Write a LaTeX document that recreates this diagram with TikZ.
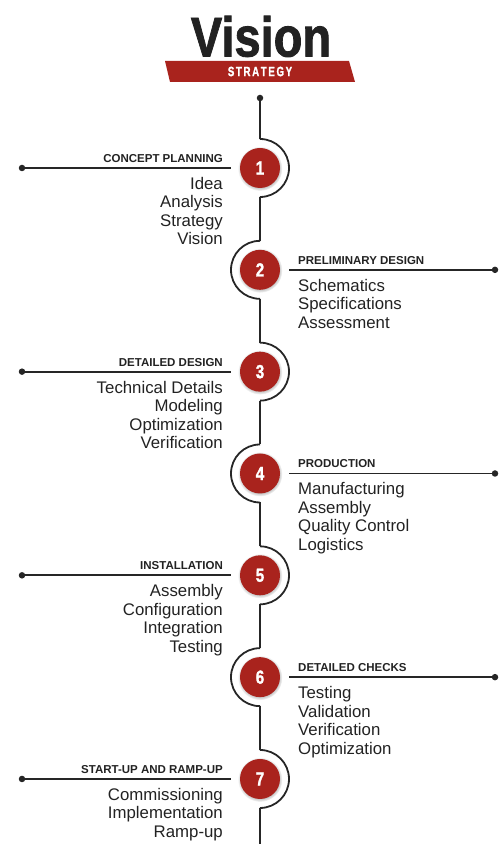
\documentclass[tikz,border=0pt]{standalone}
\usepackage{fontspec}
\setmainfont{Liberation Sans}
\newfontfamily\dickfont{Liberation Sans Bold}[FakeBold=1.6]
\usetikzlibrary{shadows}
\definecolor{rot}{HTML}{A9231D}
\definecolor{grau}{HTML}{262626}
\definecolor{hgrau}{HTML}{222222}
\tikzset{
  linie/.style={grau,line width=1.8pt},
  punkt/.style={circle,fill=grau,inner sep=0pt,minimum size=6.5pt},
  nummer/.style={circle,fill=rot,minimum size=40pt,inner sep=0pt,text=white,
    font=\dickfont\fontsize{19}{19}\selectfont,
    circular drop shadow={shadow xshift=0pt,shadow yshift=-0.5pt,shadow scale=1.12,opacity=0.45}},
  titel/.style={hgrau,font=\bfseries\fontsize{11.5}{11.5}\selectfont,inner sep=0pt},
  eintrag/.style={hgrau,font=\fontsize{16.8}{16.8}\selectfont,inner sep=0pt},
}

\begin{document}
\begin{tikzpicture}[x=1pt,y=1pt]
  \useasboundingbox (0,0) rectangle (499,844);
  % Kopf
  \node[hgrau,inner sep=0pt,anchor=base,font=\dickfont\fontsize{56}{56}\selectfont] (kopf) at (261,787.5) {\scalebox{0.84}[1]{Vision}};
  \fill[rot] (165,783) -- (349,783) -- (355,762) -- (170,762) -- cycle;
  \node[white,inner sep=0pt,font=\dickfont\fontsize{13.5}{13.5}\selectfont] (unter) at (260,772.5) {\scalebox{0.72}[1]{S\,T\,R\,A\,T\,E\,G\,Y}};
  \node[punkt] (anfang) at (260,746) {};
  \coordinate (ende) at (260,0);
  % Stufen
  \foreach \k/\name/\liste in {
      1/CONCEPT PLANNING/{Idea,Analysis,Strategy,Vision},
      2/PRELIMINARY DESIGN/{Schematics,Specifications,Assessment},
      3/DETAILED DESIGN/{Technical Details,Modeling,Optimization,Verification},
      4/PRODUCTION/{Manufacturing,Assembly,Quality Control,Logistics},
      5/INSTALLATION/{Assembly,Configuration,Integration,Testing},
      6/DETAILED CHECKS/{Testing,Validation,Verification,Optimization},
      7/START-UP AND RAMP-UP/{Commissioning,Implementation,Ramp-up}} {
    \pgfmathsetmacro{\y}{676-101.83*(\k-1)}
    \coordinate (o\k) at (260,\y+29);
    \coordinate (u\k) at (260,\y-29);
    \node[nummer] (s\k) at (260,\y) {\scalebox{0.8}[1]{\k}};
    \ifodd\k
      \draw[linie] (o\k) arc[start angle=90,end angle=-90,radius=29];
      \node[punkt] (p\k) at (22,\y) {};
      \coordinate (e\k) at (231,\y);
      \node[titel,anchor=base east] (t\k) at (223,\y+5.5) {\name};
      \foreach \w [count=\i] in \liste
        \node[eintrag,anchor=base east] at (223,\y-21.5-18.5*\i+18.5) {\w};
    \else
      \draw[linie] (o\k) arc[start angle=90,end angle=270,radius=29];
      \node[punkt] (p\k) at (495,\y) {};
      \coordinate (e\k) at (289,\y);
      \node[titel,anchor=base west] (t\k) at (298,\y+5.5) {\name};
      \foreach \w [count=\i] in \liste
        \node[eintrag,anchor=base west] at (298,\y-21.5-18.5*\i+18.5) {\w};
    \fi
    \draw[linie] (p\k) -- (e\k);
  }
  % Stamm
  \draw[linie] (anfang) -- (o1);
  \foreach \k [evaluate=\k as \n using int(\k+1)] in {1,...,6}
    \draw[linie] (u\k) -- (o\n);
  \draw[linie] (u7) -- (ende);
\end{tikzpicture}
\end{document}
